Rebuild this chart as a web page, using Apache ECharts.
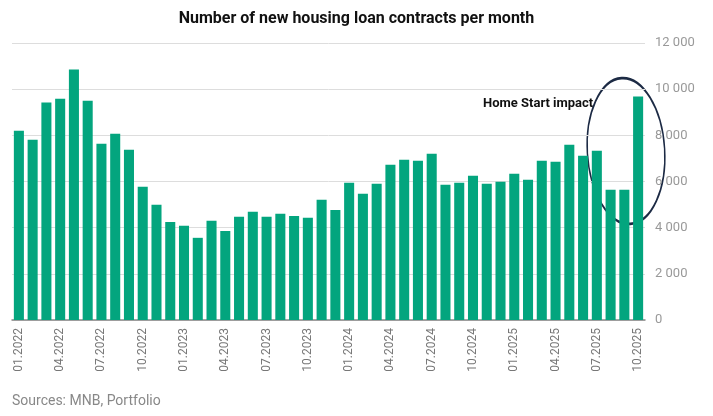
<!DOCTYPE html>
<html>
<head>
<meta charset="utf-8">
<script src="https://cdn.jsdelivr.net/npm/echarts@6/dist/echarts.min.js"></script>
<style>html,body{margin:0;padding:0;background:#fff}#main{width:713px;height:416px}</style>
</head>
<body>
<div id="main"></div>
<script>
var months = [];
for (var y = 2022; y <= 2025; y++) {
    for (var m = 1; m <= 12; m++) {
        if (y === 2025 && m > 10) break;
        months.push((m < 10 ? '0' + m : '' + m) + '.' + y);
    }
}
var contracts = [8200, 7810, 9420, 9590, 10850, 9500, 7640, 8070, 7380, 5770, 4990, 4250,
    4080, 3560, 4300, 3860, 4470, 4690, 4470, 4600, 4510, 4430, 5210, 4770,
    5950, 5470, 5900, 6730, 6940, 6900, 7200, 5860, 5950, 6250, 5900, 5990,
    6340, 6080, 6900, 6860, 7590, 7120, 7330, 5640, 5640, 9680];

var myChart = echarts.init(document.getElementById('main'));
var option = {
    animation: false,
    title: {
        text: 'Number of new housing loan contracts per month',
        left: 'center',
        top: 6,
        textStyle: { color: '#111', fontSize: 16, fontWeight: 'bold', fontFamily: 'Roboto' }
    },
    grid: { left: 12, right: 68, top: 43, bottom: 96 },
    xAxis: {
        type: 'category',
        data: months,
        axisLine: { lineStyle: { color: '#888', width: 1.5 } },
        axisTick: { show: false },
        axisLabel: {
            interval: 2,
            rotate: 90,
            color: '#777',
            fontSize: 12,
            fontFamily: 'Roboto',
            margin: 8
        }
    },
    yAxis: {
        type: 'value',
        position: 'right',
        min: 0,
        max: 12000,
        interval: 2000,
        axisLine: { show: false },
        axisTick: { show: false },
        splitLine: { lineStyle: { color: '#ddd' } },
        axisLabel: {
            color: '#999',
            fontSize: 13,
            fontFamily: 'Roboto',
            margin: 10,
            formatter: function (v) { return v >= 1000 ? Math.floor(v / 1000) + ' 000' : '' + v; }
        }
    },
    series: [{
        type: 'bar',
        data: contracts,
        barCategoryGap: '27%',
        itemStyle: { color: '#03a57e' }
    }],
    graphic: [{
        type: 'text',
        left: 483,
        top: 97,
        style: { text: 'Home Start impact', fill: '#111', font: 'bold 13px Roboto' }
    }, {
        type: 'circle',
        x: 626,
        y: 151,
        scaleX: 0.53,
        rotation: 0.06,
        shape: { cx: 0, cy: 0, r: 73 },
        style: { fill: 'none', stroke: '#1c2a44', lineWidth: 2, strokeNoScale: true }
    }, {
        type: 'text',
        left: 12,
        top: 394,
        style: { text: 'Sources: MNB, Portfolio', fill: '#888', font: '14px Roboto' }
    }]
};
myChart.setOption(option);
</script>
</body>
</html>
